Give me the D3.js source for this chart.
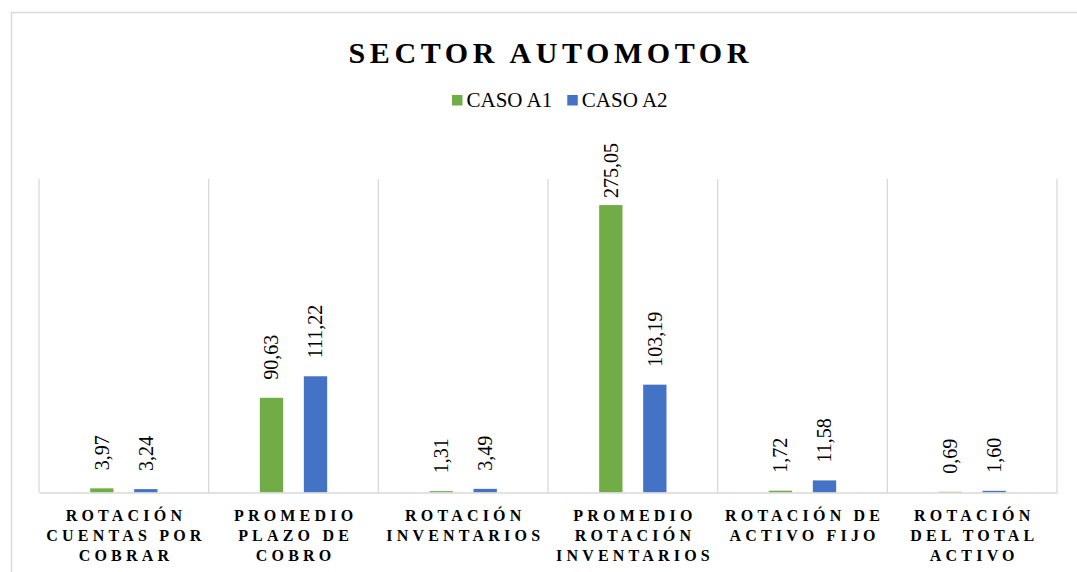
<!DOCTYPE html>
<html>
<head>
<meta charset="utf-8">
<script src="https://cdn.jsdelivr.net/npm/d3@7/dist/d3.min.js"></script>
<style>
  html, body { margin: 0; padding: 0; background: #fff; }
  svg { display: block; }
  svg text { font-family: "Liberation Serif", "DejaVu Serif", serif !important; }
</style>
</head>
<body>
<svg id="chart" width="1077" height="572"></svg>
<script>
// ---- data ----
const categories = [
  ["ROTACIÓN", "CUENTAS POR", "COBRAR"],
  ["PROMEDIO", "PLAZO DE", "COBRO"],
  ["ROTACIÓN", "INVENTARIOS"],
  ["PROMEDIO", "ROTACIÓN", "INVENTARIOS"],
  ["ROTACIÓN DE", "ACTIVO FIJO"],
  ["ROTACIÓN", "DEL TOTAL", "ACTIVO"]
];
const seriesNames = ["CASO A1", "CASO A2"];
const casoA1 = [3.97, 90.63, 1.31, 275.05, 1.72, 0.69];
const casoA2 = [3.24, 111.22, 3.49, 103.19, 11.58, 1.60];
const yMax = 300;
const title = "SECTOR AUTOMOTOR";
const colors = ["#70ad47", "#4472c4"];

// ---- layout ----
const FONT = "Liberation Serif";
const svg = d3.select("#chart");
const plot = { left: 39, right: 1057, top: 179, bottom: 492.5 };
const grid = "#d9d9d9";

// chart frame (extends beyond the visible window)
svg.append("rect")
  .attr("x", 11.5).attr("y", 12.5)
  .attr("width", 1100).attr("height", 600)
  .attr("fill", "#fff").attr("stroke", grid).attr("stroke-width", 1.5);

const keys = categories.map((c, i) => "c" + i);
const x = d3.scaleBand().domain(keys).range([plot.left, plot.right]).paddingInner(0).paddingOuter(0);
const y = d3.scaleLinear().domain([0, yMax]).range([plot.bottom, plot.top]);

const barW = x.bandwidth() * 0.1375;
const offsets = [-22, 22];

// vertical gridlines at category boundaries
const bounds = keys.map(k => x(k)).concat([plot.right]);
svg.append("g").selectAll("line").data(bounds).join("line")
  .attr("x1", d => d).attr("x2", d => d)
  .attr("y1", y(yMax)).attr("y2", y(0))
  .attr("stroke", grid).attr("stroke-width", 1.3);

// bars
const series = [casoA1, casoA2];
series.forEach((vals, si) => {
  svg.append("g").selectAll("rect").data(vals).join("rect")
    .attr("x", (d, i) => x(keys[i]) + x.bandwidth() / 2 + offsets[si] - barW / 2)
    .attr("y", d => y(d))
    .attr("width", barW)
    .attr("height", d => y(0) - y(d))
    .attr("fill", colors[si]);
});

// x axis
const xAxis = svg.append("g")
  .attr("transform", `translate(0,${plot.bottom})`)
  .call(d3.axisBottom(x).tickSize(0).tickFormat(""));
xAxis.attr("font-family", FONT);
xAxis.select(".domain").attr("stroke", grid).attr("stroke-width", 1.5);
const ls = 4.2;
xAxis.selectAll(".tick text").each(function(k) {
  const lines = categories[keys.indexOf(k)];
  const t = d3.select(this)
    .attr("y", 0).attr("dy", null)
    .attr("fill", "#000")
    .attr("font-size", "16px")
    .attr("font-weight", "bold")
    .attr("letter-spacing", ls + "px")
    .style("font-family", FONT)
    .attr("text-anchor", "middle");
  lines.forEach((ln, li) => {
    t.append("tspan").attr("x", ls / 2).attr("y", 28.5 + li * 20).text(ln);
  });
});

// value labels (rotated)
const labelTopLimit = 143;
series.forEach((vals, si) => {
  svg.append("g").selectAll("text").data(vals).join("text")
    .style("font-family", FONT)
    .attr("font-size", "20px")
    .attr("fill", "#000")
    .attr("dy", "0.34em")
    .text(d => d.toFixed(2).replace(".", ","))
    .each(function(d, i) {
      const len = this.getComputedTextLength();
      let yy = y(d) - 18;
      if (yy - len < labelTopLimit) yy = labelTopLimit + len;
      const xx = x(keys[i]) + x.bandwidth() / 2 + offsets[si];
      d3.select(this).attr("transform", `translate(${xx},${yy}) rotate(-90)`);
    });
});

// title
const tls = 4.6;
svg.append("text")
  .attr("x", 548.5 + tls / 2).attr("y", 63)
  .attr("text-anchor", "middle")
  .style("font-family", FONT)
  .attr("font-size", "30px").attr("font-weight", "bold")
  .attr("letter-spacing", tls + "px")
  .attr("fill", "#000")
  .text(title);

// legend
const legend = svg.append("g");
let lx = 452;
seriesNames.forEach((name, i) => {
  legend.append("rect").attr("x", lx).attr("y", 95).attr("width", 10.5).attr("height", 10.5).attr("fill", colors[i]);
  const t = legend.append("text").attr("x", lx + 14.5).attr("y", 107)
    .style("font-family", FONT)
    .attr("font-size", "21px").attr("fill", "#000").text(name);
  lx = lx + 14.5 + t.node().getComputedTextLength() + 15;
});
</script>
</body>
</html>
